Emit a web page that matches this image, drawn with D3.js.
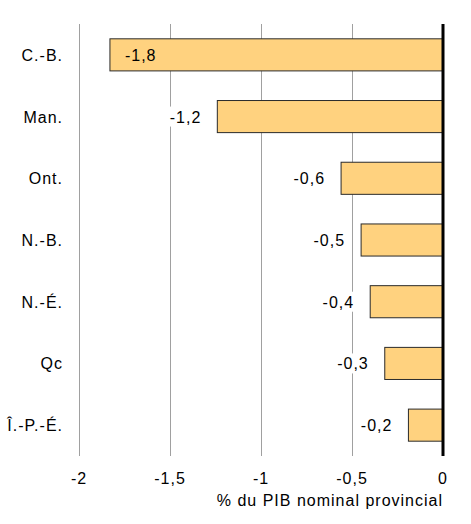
<!DOCTYPE html>
<html><head><meta charset="utf-8">
<script src="https://cdn.jsdelivr.net/npm/d3@7"></script>
<style>
body{margin:0;background:#fff;}
text{font-family:Arial,"Liberation Sans",sans-serif;font-size:16px;letter-spacing:1px;fill:#000;}
</style></head><body>
<svg id="c" width="471" height="524"></svg>
<script>
const categories = ["C.-B.","Man.","Ont.","N.-B.","N.-É.","Qc","Î.-P.-É."];
const values = [-1.83,-1.24,-0.56,-0.45,-0.40,-0.32,-0.19];
const valueLabels = ["-1,8","-1,2","-0,6","-0,5","-0,4","-0,3","-0,2"];
const tickValues = [-2,-1.5,-1,-0.5,0];
const tickLabels = ["-2","-1,5","-1","-0,5","0"];
const axisTitle = "% du PIB nominal provincial";

const svg = d3.select("#c");
const x = d3.scaleLinear().domain([-2,0]).range([79,443]);
const y = d3.scaleBand().domain(categories).range([24,456]).paddingInner(0.48).paddingOuter(0.24);

// grid
svg.append("g").selectAll("line").data(tickValues.slice(0,-1)).join("line")
  .attr("x1",d=>Math.round(x(d))+0.5).attr("x2",d=>Math.round(x(d))+0.5)
  .attr("y1",24).attr("y2",456).attr("stroke","#a0a0a0").attr("stroke-width",1);

// bars
svg.append("g").selectAll("rect").data(values).join("rect")
  .attr("x",d=>x(d)).attr("width",d=>x(0)-x(d))
  .attr("y",(d,i)=>y(categories[i])).attr("height",y.bandwidth())
  .attr("fill","#FFD27F").attr("stroke","#2a2a2a").attr("stroke-width",1);

// value labels
const lg = svg.append("g");
values.forEach((v,i)=>{
  const cy = y(categories[i]) + y.bandwidth()/2;
  const g = lg.append("g");
  const bg = g.append("rect").attr("fill","#fff");
  const t = g.append("text").text(valueLabels[i]).attr("y",cy+6);
  const w = t.node().getComputedTextLength();
  let tx;
  if (x(v) - 16 - w < x(-2)) { tx = x(v) + 15; g.select("rect").remove(); }
  else { tx = x(v) - 16 - w; bg.attr("x",tx-3).attr("y",cy-10).attr("width",w+6).attr("height",20); }
  t.attr("x",tx);
});

// zero line
svg.append("line").attr("x1",x(0)).attr("x2",x(0)).attr("y1",24).attr("y2",456)
  .attr("stroke","#000").attr("stroke-width",3);

// category labels
svg.append("g").selectAll("text").data(categories).join("text")
  .attr("x",63).attr("y",d=>y(d)+y.bandwidth()/2+6).attr("text-anchor","end").text(d=>d);

// tick labels
svg.append("g").selectAll("text").data(tickValues).join("text")
  .attr("x",d=>x(d)).attr("y",484).attr("text-anchor","middle").text((d,i)=>tickLabels[i]);

svg.append("text").attr("x",443).attr("y",506).attr("text-anchor","end").text(axisTitle);
</script>
</body></html>
